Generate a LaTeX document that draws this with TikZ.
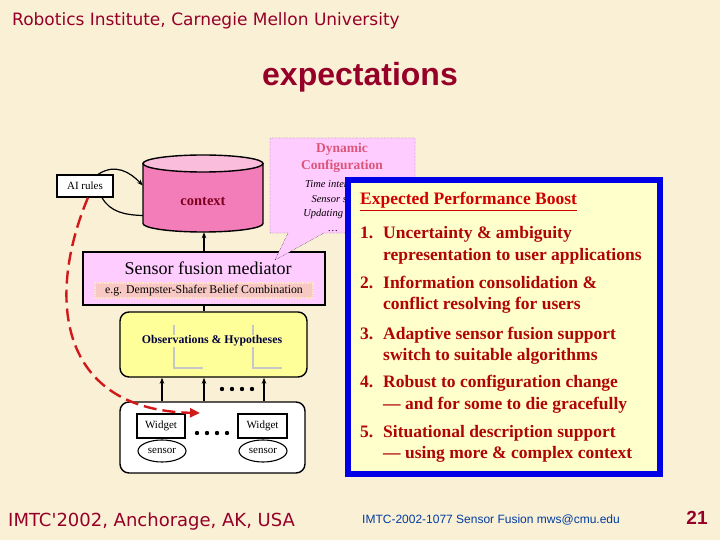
\documentclass[tikz,border=0pt]{standalone}
\usepackage{fontspec}
\setmainfont{Liberation Serif}
\newfontfamily\arialfont{Liberation Sans}
\newfontfamily\handfont{DejaVu Sans}
\usetikzlibrary{shapes.geometric,shapes.callouts,arrows.meta,positioning}
\definecolor{bgbeige}{RGB}{250,240,214}
\definecolor{slidered}{RGB}{150,0,40}
\definecolor{cfgpink}{RGB}{255,204,255}
\definecolor{cfgred}{RGB}{220,85,120}
\definecolor{ctxbody}{RGB}{242,125,185}
\definecolor{ctxtop}{RGB}{250,190,220}
\definecolor{ctxred}{RGB}{128,0,32}
\definecolor{dsfill}{RGB}{248,200,196}
\definecolor{dsline}{RGB}{255,228,200}
\definecolor{obsyellow}{RGB}{255,255,153}
\definecolor{obsnavy}{RGB}{0,0,60}
\definecolor{boostblue}{RGB}{0,0,230}
\definecolor{boostfill}{RGB}{255,255,204}
\definecolor{boosttitle}{RGB}{210,0,0}
\definecolor{itemred}{RGB}{175,5,5}
\definecolor{dashred}{RGB}{210,25,25}
\definecolor{footblue}{RGB}{0,60,160}
\begin{document}
\begin{tikzpicture}[x=1pt, y=-1pt,
    box/.style={draw=black, line width=1.4pt},
    lab/.style={inner sep=0pt, font=\fontsize{11}{13}\selectfont},
    itm/.style={anchor=base west, inner sep=0pt, text=itemred, font=\fontsize{17.5}{20}\selectfont\bfseries},
    arr/.style={-{Stealth[length=6pt,width=4.5pt]}, line width=1.2pt},
    reddash/.style={draw=dashred, line width=2.4pt, dash pattern=on 13pt off 6pt,
      -{Triangle[length=10pt,width=9pt]}}]
  \fill[bgbeige] (0,0) rectangle (720,540);
  \useasboundingbox (0,0) rectangle (720,540);
  % slide header
  \node[anchor=base west, inner sep=0pt, text=slidered, font=\handfont\fontsize{17}{20}\selectfont]
    (inst) at (12,26) {Robotics Institute, Carnegie Mellon University};
  \node[anchor=base, inner sep=0pt, text=slidered, font=\arialfont\bfseries\fontsize{32}{36}\selectfont]
    (head) at (360,86) {expectations};
  % mediator
  \node[box, fill=cfgpink, minimum width=242pt, minimum height=53pt, inner sep=0pt] (med) at (204,278.5) {};
  \node[anchor=base, inner sep=0pt, font=\fontsize{18}{21}\selectfont] (medtxt) at (208,274) {Sensor fusion mediator};
  \node[lab, fill=dsfill, draw=dsline, densely dotted, line width=1.5pt, minimum width=218pt, minimum height=15pt,
    font=\fontsize{11.8}{13}\selectfont] (ds) at (204,290.5) {e.g. Dempster-Shafer Belief Combination};
  % dynamic configuration callout
  \node[rectangle callout, draw=black, densely dotted, fill=cfgpink, minimum width=145pt, minimum height=95pt,
    inner sep=0pt, callout absolute pointer={(275,260)}, callout pointer width=36pt] (cfg) at (342.5,185.5) {};
  \node[align=center, inner sep=0pt, text=cfgred, font=\fontsize{13.5}{17}\selectfont\bfseries]
    (cfgtitle) at (342,157.5) {Dynamic\\Configuration};
  \node[align=center, inner sep=0pt, font=\fontsize{10.5}{14.7}\selectfont\itshape]
    (cfgtext) at (333,206) {Time interval\\Sensor set\\Updating rate\\\dots};
  % context store
  \filldraw[fill=ctxbody, draw=black, line width=1.4pt] (143,163.5) -- (143,223.5)
    arc[start angle=180, end angle=360, x radius=60pt, y radius=8.5pt] -- (263,163.5) -- cycle;
  \filldraw[fill=ctxtop, draw=black, line width=1.4pt] (203,163.5) ellipse[x radius=60pt, y radius=8.5pt];
  \node[minimum width=120pt, minimum height=77pt, inner sep=0pt, text=ctxred,
    font=\fontsize{14.5}{16}\selectfont\bfseries] (ctx) at (203,193.5) {};
  \node[inner sep=0pt, text=ctxred, font=\fontsize{14.5}{16}\selectfont\bfseries] (ctxtxt) at (203,201) {context};
  \node[box, line width=1.1pt, fill=white, lab, minimum width=56pt, minimum height=22pt] (ai) at (85,186) {AI rules};
  \draw[arr] ([xshift=13pt]ai.north) .. controls (115,163) and (130,172) .. ([yshift=8pt]ctx.west);
  \draw[line width=1.2pt] ([xshift=17pt]ai.south) .. controls (110,212) and (125,215) .. ([yshift=-22pt]ctx.west);
  \draw[arr] (med.north) -- (med.north |- ctx.south);
  % observations
  \node[box, rounded corners=9pt, fill=obsyellow, minimum width=187pt, minimum height=65pt] (obs) at (213.5,344.5) {};
  \draw[gray!45, line width=1.2pt] (174,325) -- (174,368) -- (203,368);
  \draw[gray!45, line width=1.2pt] (253,325) -- (253,368) -- (282,368);
  \node[inner sep=1pt, fill=obsyellow, text=obsnavy, font=\fontsize{11.8}{13}\selectfont\bfseries]
    (obstxt) at (212,341) {Observations \& Hypotheses};
  \draw[line width=1.2pt] (med.south) -- (med.south |- obs.north);
  % widgets
  \node[box, rounded corners=9pt, fill=white, minimum width=185pt, minimum height=71pt] (cont) at (212.5,437.5) {};
  \node[draw=black, line width=1.1pt, lab, minimum width=48pt, minimum height=24pt] (wa) at (161,426) {Widget};
  \node[draw=black, line width=1.1pt, lab, minimum width=49pt, minimum height=24pt] (wb) at (262.5,426) {Widget};
  \node[ellipse, draw=black, line width=1.1pt, lab, minimum width=48pt, minimum height=22pt] (sa) at (162,451) {sensor};
  \node[ellipse, draw=black, line width=1.1pt, lab, minimum width=48pt, minimum height=22pt] (sb) at (263,451) {sensor};
  \foreach \x in {162,204,264}
    \draw[arr] (\x,0 |- cont.north) -- (\x,0 |- obs.south);
  \foreach \x in {222,232,242,252}
    \fill (\x,389) circle[radius=2.2pt];
  \foreach \x in {197,207,217,227}
    \fill (\x,433) circle[radius=2.2pt];
  \coordinate (tip) at (200,413);
  \draw[reddash] ([xshift=3pt]ai.south) .. controls (45,300) and (60,410) .. (tip);
  % expected performance boost
  \node[draw=boostblue, line width=6pt, fill=boostfill, minimum width=312pt, minimum height=294pt] (boost) at (504,327) {};
  \node[anchor=base west, inner sep=0pt, text=boosttitle, font=\fontsize{17.5}{20}\selectfont\bfseries]
    (btitle) at (360,205) {\underline{Expected Performance Boost}};
  \node[itm] (n1) at (360,239) {1.};
  \node[itm] (t1a) at (383,239) {Uncertainty \& ambiguity};
  \node[itm] (t1b) at (383,260) {representation to user applications};
  \node[itm] (n2) at (360,288) {2.};
  \node[itm] (t2a) at (383,288) {Information consolidation \&};
  \node[itm] (t2b) at (383,309) {conflict resolving for users};
  \node[itm] (n3) at (360,339) {3.};
  \node[itm] (t3a) at (383,339) {Adaptive sensor fusion support};
  \node[itm] (t3b) at (383,360) {switch to suitable algorithms};
  \node[itm] (n4) at (360,387) {4.};
  \node[itm] (t4a) at (383,387) {Robust to configuration change};
  \node[itm] (t4b) at (383,409) {--- and for some to die gracefully};
  \node[itm] (n5) at (360,437) {5.};
  \node[itm] (t5a) at (383,437) {Situational description support};
  \node[itm] (t5b) at (383,458) {--- using more \& complex context};
  % footer
  \node[anchor=base west, inner sep=0pt, text=slidered, font=\handfont\fontsize{18}{21}\selectfont]
    (conf) at (8,526) {IMTC'2002, Anchorage, AK, USA};
  \node[anchor=base west, inner sep=0pt, text=footblue, font=\arialfont\fontsize{12}{13}\selectfont]
    (foot) at (362,523) {IMTC-2002-1077 Sensor Fusion mws@cmu.edu};
  \node[anchor=base, inner sep=0pt, text=slidered, font=\arialfont\bfseries\fontsize{19}{22}\selectfont]
    (page) at (697,524) {21};
\end{tikzpicture}
\end{document}
